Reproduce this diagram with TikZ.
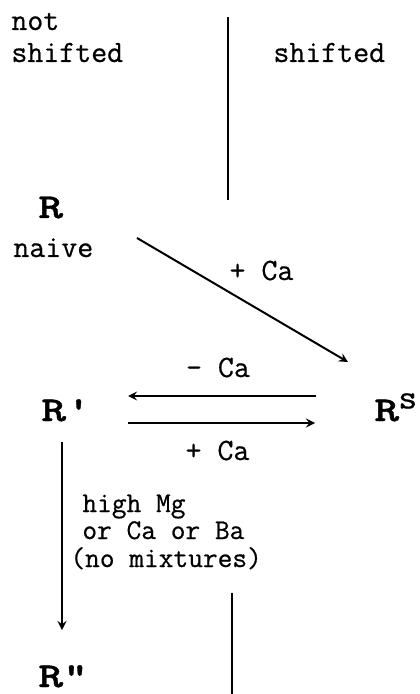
\documentclass[tikz,border=0pt]{standalone}
\usepackage{fontspec}
\setmonofont[FakeBold=0.6]{Latin Modern Mono}
\newfontfamily\rfont[FakeStretch=1.35, FakeBold=0.8]{Latin Modern Mono Light}
\usetikzlibrary{arrows, positioning}
\tikzstyle{txt} = [font=\ttfamily\fontsize{15.5}{16}\selectfont, inner sep=0pt, anchor=base west]
\tikzstyle{smalltxt} = [font=\ttfamily\fontsize{14.3}{13.75}\selectfont, inner sep=0pt, anchor=base west]
\tikzstyle{recep} = [font=\rfont\bfseries\fontsize{17.5}{17.5}\selectfont, inner sep=0pt, anchor=base west]
\tikzstyle{arrow} = [line width=1pt,->,>=stealth]
\tikzstyle{divider} = [semithick]

\begin{document}
\begin{tikzpicture}[x=0.5pt, y=-0.5pt]
\useasboundingbox (0,0) rectangle (419,694);

\node (notsh) [txt, align=left] at (11,62) {not\\shifted};
\node (sh) [txt] at (273,62) {shifted};
\node (R) [recep] at (38,218) {R};
\node (naive) [txt] at (13,257) {naive};
\node (Rp) [recep] at (41,421) {R\symbol{39}};
\node (Rs) [recep] at (374,421) {R\textsuperscript{S}};
\node (Rpp) [recep] at (38,687) {R\symbol{34}};

% dividing line
\draw [divider] (228,17) -- (228,200);
\draw [divider] (232,593) -- (232,694);

\coordinate (diagA) at (137,238);
\coordinate (diagB) at (348,362);
\coordinate (backA) at (316,396);
\coordinate (backB) at (128,396);
\coordinate (fwdA) at (128,423);
\coordinate (fwdB) at (315,423);
\coordinate (downA) at (62,442);
\coordinate (downB) at (62,630);

\draw [arrow] (diagA) -- node[txt, anchor=base, xshift=9.5pt, yshift=10pt] {+ Ca} (diagB);
\draw [arrow] (backA) -- node[txt, anchor=base, xshift=-2pt, yshift=9.5pt] {- Ca} (backB);
\draw [arrow] (fwdA) -- node[txt, anchor=base, xshift=-2pt, yshift=-18.5pt] {+ Ca} (fwdB);
\draw [arrow] (downA) -- (downB);

% condition for R' -> R''
\node (cond1) [smalltxt] at (82,512) {high Mg};
\node (cond2) [smalltxt] at (82,539) {or Ca or Ba};
\node (cond3) [smalltxt] at (70,567) {(no mixtures)};

\end{tikzpicture}
\end{document}
